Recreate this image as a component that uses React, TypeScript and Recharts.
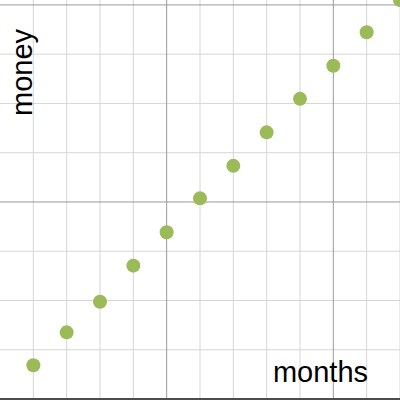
import React from 'react';
import { ScatterChart, Scatter, XAxis, YAxis, CartesianGrid, ReferenceLine } from 'recharts';

const months = [1, 2, 3, 4, 5, 6, 7, 8, 9, 10, 11, 12];
const money = [103, 203, 296, 406, 508, 611, 710, 812, 914, 1015, 1117, 1215];

const minorMonthTicks = [1, 2, 3, 4, 6, 7, 8, 9, 11, 12];
const majorMonthTicks = [5, 10];
const minorMoneyTicks = [150, 300, 450, 750, 900, 1050];
const majorMoneyTicks = [600, 1200];

const data = months.map((m, i) => ({ month: m, money: money[i] }));

const font = "'Liberation Sans', Arial, sans-serif";

const App: React.FC = () => {
  return (
    <div style={{ position: 'relative', width: 400, height: 400, overflow: 'hidden', background: '#fff' }}>
      <style>{`body { margin: 0; }`}</style>
      <ScatterChart width={400} height={400} margin={{ top: 0, right: 0, bottom: 1, left: 0 }}>
        <XAxis type="number" dataKey="month" domain={[0, 12]} ticks={months} hide />
        <YAxis type="number" dataKey="money" domain={[0, 1215]} hide />
        <CartesianGrid
          stroke="#d6d6d6"
          strokeWidth={1}
          verticalValues={minorMonthTicks}
          horizontalValues={minorMoneyTicks}
        />
        <CartesianGrid
          stroke="#999999"
          strokeWidth={1}
          verticalValues={majorMonthTicks}
          horizontalValues={majorMoneyTicks}
        />
        <ReferenceLine y={0} stroke="#4d4d4d" strokeWidth={2} />
        <Scatter
          data={data}
          fill="#9bbb59"
          shape={(p: any) => <circle cx={p.cx} cy={p.cy} r={7} fill="#9bbb59" />}
          isAnimationActive={false}
        />
      </ScatterChart>
      <svg width={400} height={400} style={{ position: 'absolute', left: 0, top: 0, pointerEvents: 'none' }}>
        <text x={320.5} y={382} textAnchor="middle" fontFamily={font} fontSize={29} fill="#000">
          months
        </text>
        <text transform="translate(31.5,72.5) rotate(-90)" textAnchor="middle" fontFamily={font} fontSize={29} fill="#000">
          money
        </text>
      </svg>
    </div>
  );
};

export default App;
